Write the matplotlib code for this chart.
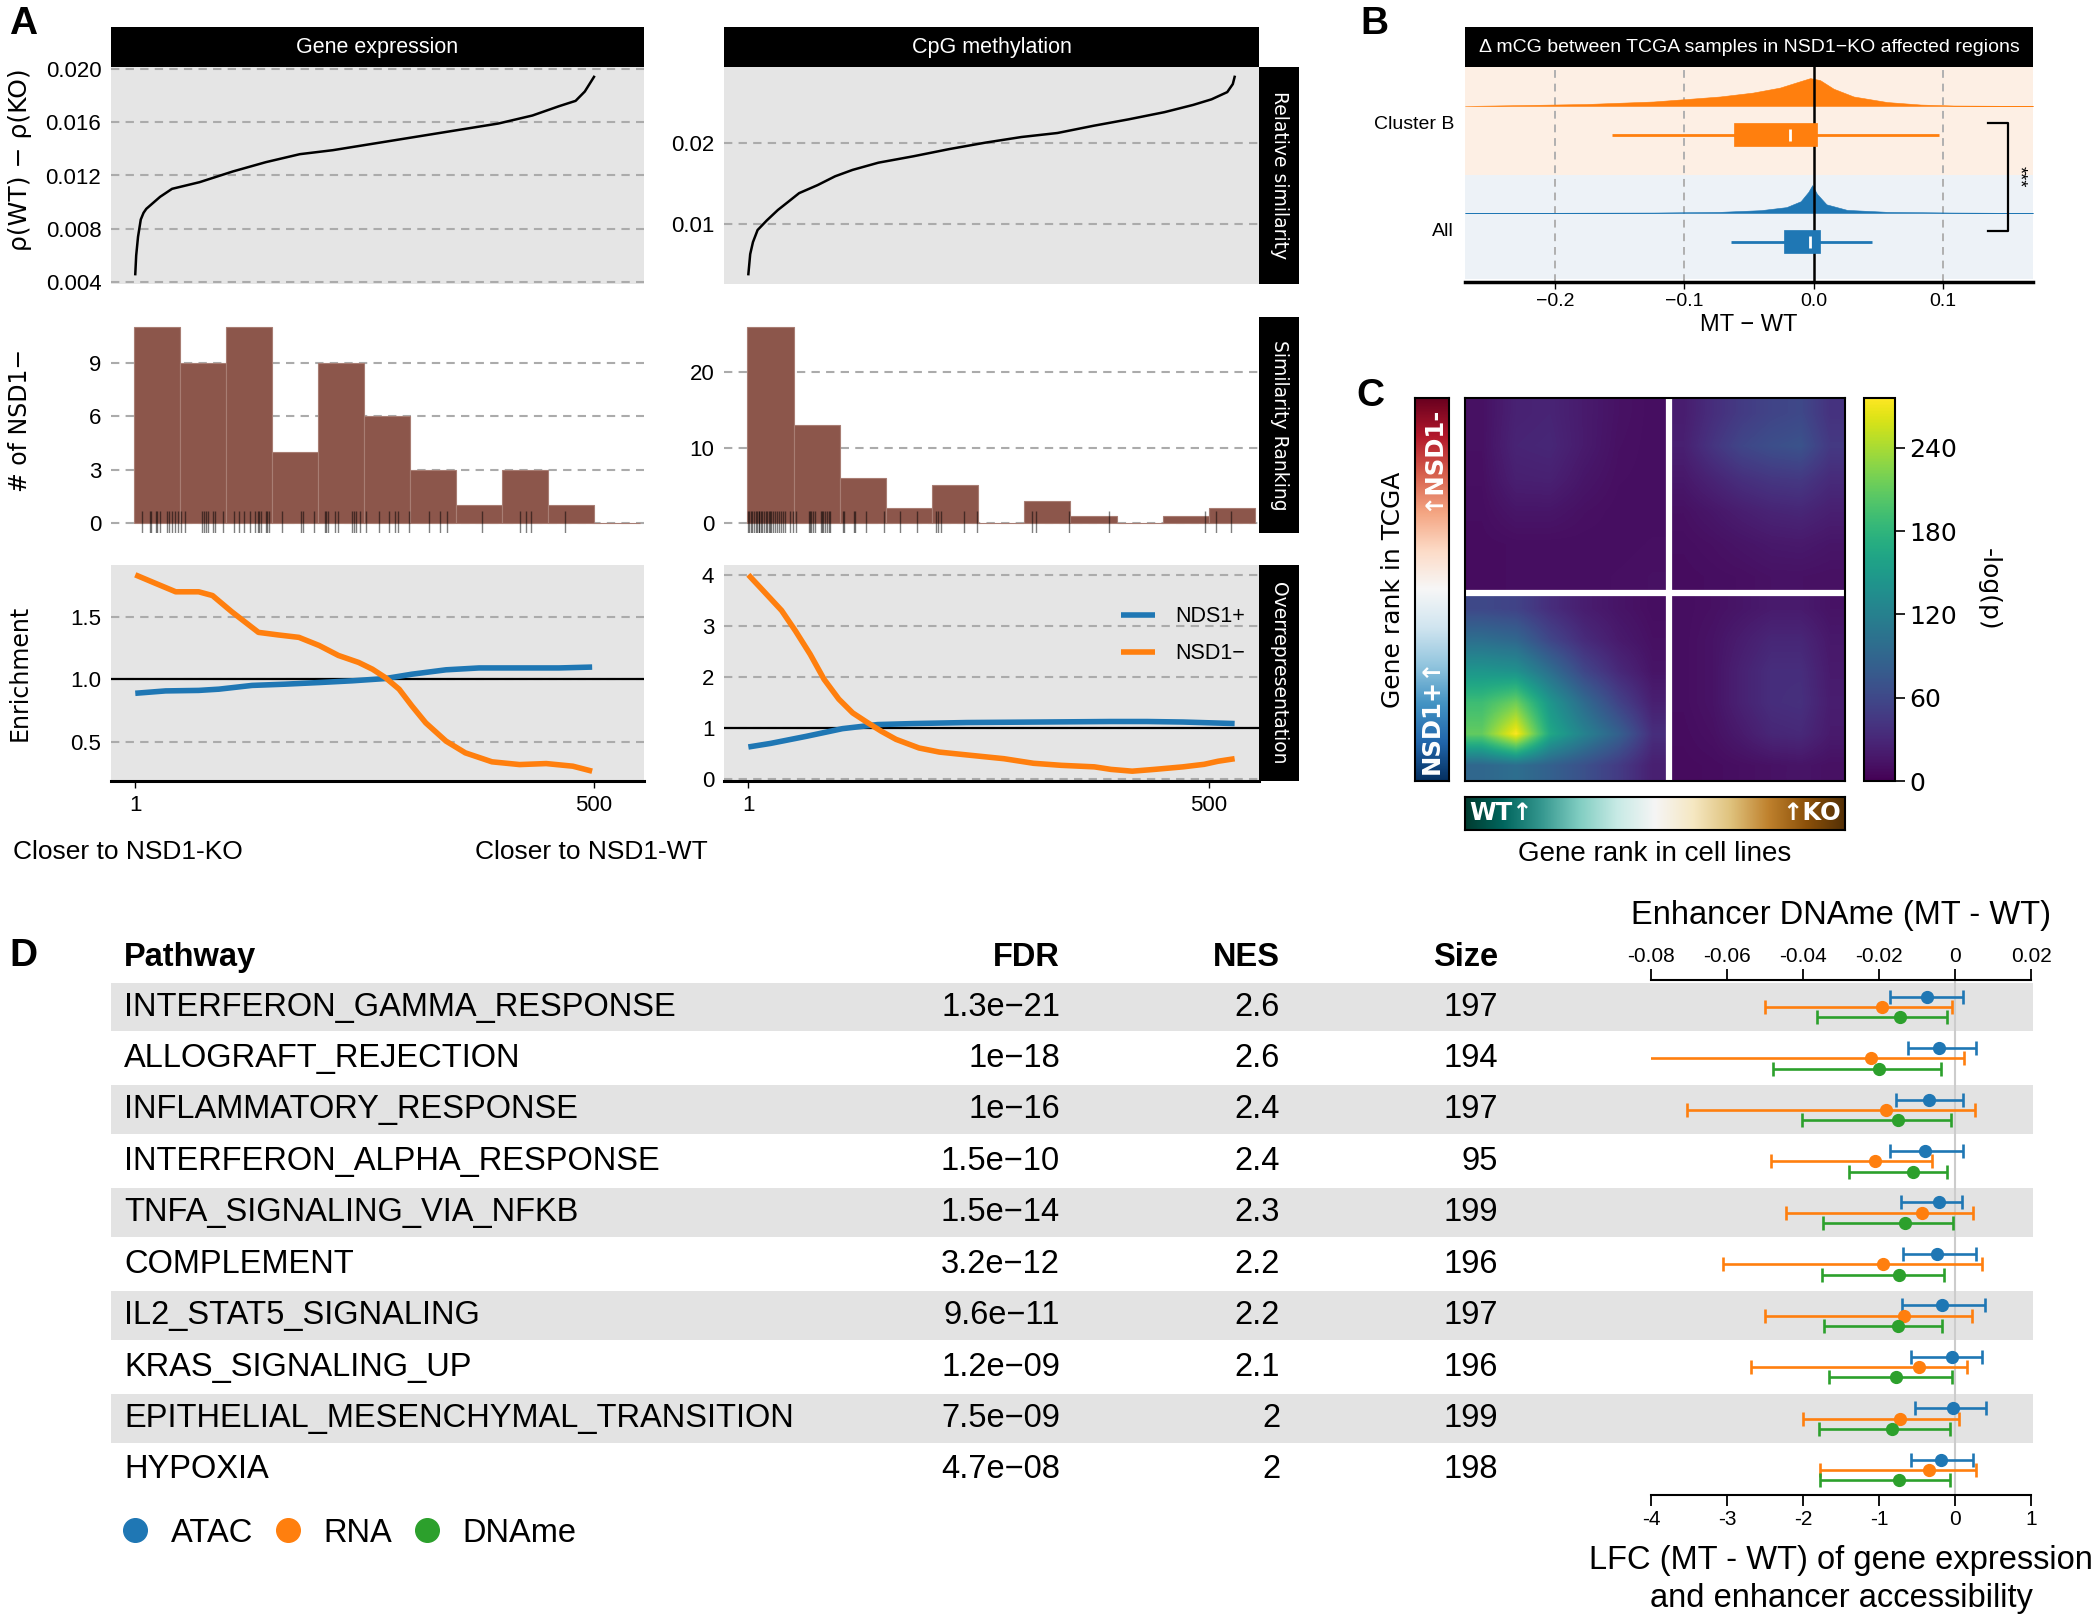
import numpy as np
import matplotlib
matplotlib.use('Agg')
import matplotlib.pyplot as plt
import matplotlib.transforms as mtransforms
from matplotlib.lines import Line2D
from matplotlib.patches import Rectangle

plt.rcParams['font.family'] = ['Liberation Sans', 'DejaVu Sans']
plt.rcParams['axes.unicode_minus'] = True

# ======================= DATA =======================
# Panel A, row 1: relative similarity (sorted)
ge_sim_rank = [1, 2, 4, 7, 10, 13, 28, 41, 71, 107, 143, 180, 216, 252, 288, 324, 360, 396, 433, 462, 480, 490, 500]
ge_sim = [0.0046, 0.0060, 0.0074, 0.0087, 0.0092, 0.0095, 0.0104, 0.0110, 0.0115, 0.0123, 0.0130, 0.0136,
          0.0139, 0.0143, 0.0147, 0.0151, 0.0155, 0.0159, 0.0165, 0.0172, 0.0176, 0.0183, 0.0194]
cpg_sim_rank = [1, 3, 6, 11, 21, 33, 44, 56, 76, 95, 114, 142, 180, 219, 258, 297, 336, 375, 413, 452,
                483, 503, 520, 526, 528]
cpg_sim = [0.0037, 0.0062, 0.0077, 0.0092, 0.0104, 0.0117, 0.0127, 0.0138, 0.0148, 0.0159, 0.0167, 0.0176,
           0.0184, 0.0193, 0.0201, 0.0208, 0.0213, 0.0222, 0.0230, 0.0239, 0.0248, 0.0255, 0.0264, 0.0274, 0.0283]

# Panel A, row 2: ranks of NSD1- samples
ge_neg_ranks = [8, 17, 18, 24, 25, 28, 35, 38, 41, 44, 48,
                51, 55, 74, 76, 78, 80, 86, 88, 96,
                108, 114, 119, 126, 131, 134, 136, 138, 143, 144, 147,
                161, 181, 183, 195,
                207, 209, 211, 218, 222, 237, 239, 241, 245,
                252, 266, 277, 284, 287, 299,
                320, 333, 340,
                378,
                419, 426, 432,
                469]
cpg_neg_ranks = [1, 2, 4, 5, 7, 9, 10, 12, 13, 15, 16, 18, 20, 21, 23, 24, 26, 28, 30, 32, 34, 36, 38, 41, 46, 49,
                 53, 67, 68, 69, 71, 73, 80, 81, 82, 84, 86, 88, 90,
                 104, 105, 116, 117, 129, 148,
                 165, 184,
                 204, 206, 210, 235, 249,
                 308, 313, 348,
                 392,
                 496,
                 508, 524]

# Panel A, row 3: enrichment
ge_enr_neg_rank = [1, 19, 45, 70, 85, 106, 135, 157, 179, 201, 222, 244, 259, 273, 288, 302, 317, 339, 360,
                   389, 419, 448, 477, 498]
ge_enr_neg = [1.836, 1.78, 1.70, 1.70, 1.67, 1.54, 1.375, 1.354, 1.335, 1.27, 1.19, 1.134, 1.08, 1.013, 0.92,
              0.785, 0.65, 0.504, 0.41, 0.338, 0.316, 0.324, 0.303, 0.263]
ge_enr_pos_rank = [1, 34, 70, 92, 128, 164, 201, 237, 273, 302, 339, 375, 419, 462, 498]
ge_enr_pos = [0.887, 0.906, 0.91, 0.92, 0.95, 0.96, 0.973, 0.987, 1.005, 1.04, 1.075, 1.09, 1.09, 1.09, 1.097]
cpg_enr_neg_rank = [1, 17, 37, 52, 68, 83, 99, 114, 130, 145, 161, 186, 208, 240, 278, 310, 340, 376, 394,
                    417, 441, 472, 495, 510, 528]
cpg_enr_neg = [4.0, 3.69, 3.30, 2.90, 2.44, 1.95, 1.56, 1.29, 1.10, 0.93, 0.77, 0.60, 0.52, 0.46, 0.39, 0.30,
               0.26, 0.23, 0.18, 0.145, 0.18, 0.23, 0.28, 0.34, 0.39]
cpg_enr_pos_rank = [1, 25, 64, 103, 141, 180, 238, 316, 394, 433, 472, 528]
cpg_enr_pos = [0.62, 0.69, 0.83, 0.98, 1.06, 1.08, 1.10, 1.11, 1.12, 1.12, 1.11, 1.08]

# Panel B: distributions of delta mCG
B_groups = ['All', 'Cluster B']
B_q1 = [-0.023, -0.062]
B_med = [-0.003, -0.018]
B_q3 = [0.005, 0.003]
B_wlo = [-0.064, -0.156]
B_whi = [0.045, 0.097]
B_dens_x_clusterB = [-0.27, -0.228, -0.176, -0.124, -0.098, -0.0725, -0.047, -0.026, -0.013, -0.0026,
                     0.005, 0.0155, 0.031, 0.057, 0.083, 0.109, 0.17]
B_dens_clusterB = [0.0, 0.03, 0.07, 0.16, 0.25, 0.34, 0.48, 0.66, 0.85, 1.0, 0.93, 0.62, 0.34, 0.14, 0.05,
                   0.015, 0.0]
B_dens_x_all = [-0.27, -0.124, -0.0725, -0.041, -0.021, -0.010, -0.004, -0.001, 0.0026, 0.010, 0.026,
                0.057, 0.109, 0.17]
B_dens_all = [0.0, 0.015, 0.04, 0.10, 0.21, 0.42, 0.76, 1.0, 0.69, 0.31, 0.11, 0.04, 0.015, 0.0]

# Panel C: -log(p) heatmap, four quadrants (rows top -> bottom)
hm_ul = [[12, 26, 28, 20, 13, 10],
         [12, 28, 30, 20, 12, 10],
         [11, 24, 25, 16, 11, 10],
         [10, 16, 16, 12, 10, 10],
         [9, 10, 10, 10, 10, 11],
         [9, 10, 10, 10, 11, 12]]
hm_ur = [[22, 36, 48, 56, 60, 40],
         [24, 42, 58, 66, 70, 46],
         [18, 28, 38, 44, 46, 34],
         [12, 17, 23, 28, 30, 24],
         [10, 12, 15, 18, 19, 16],
         [9, 10, 11, 13, 13, 12]]
hm_ll = [[60, 55, 36, 22, 15, 10],
         [100, 92, 58, 34, 20, 12],
         [145, 140, 100, 58, 32, 15],
         [190, 215, 145, 96, 55, 24],
         [210, 275, 165, 122, 85, 36],
         [92, 100, 85, 68, 48, 24]]
hm_lr = [[10, 12, 16, 20, 20, 14],
         [10, 14, 22, 30, 30, 18],
         [10, 14, 26, 36, 36, 20],
         [10, 14, 26, 36, 38, 22],
         [9, 12, 20, 30, 32, 20],
         [8, 9, 11, 13, 15, 12]]

# Panel D: pathway table + forest plot
pathways = ['INTERFERON_GAMMA_RESPONSE', 'ALLOGRAFT_REJECTION', 'INFLAMMATORY_RESPONSE',
            'INTERFERON_ALPHA_RESPONSE', 'TNFA_SIGNALING_VIA_NFKB', 'COMPLEMENT', 'IL2_STAT5_SIGNALING',
            'KRAS_SIGNALING_UP', 'EPITHELIAL_MESENCHYMAL_TRANSITION', 'HYPOXIA']
fdr = ['1.3e\u221221', '1e\u221218', '1e\u221216', '1.5e\u221210', '1.5e\u221214', '3.2e\u221212',
       '9.6e\u221211', '1.2e\u221209', '7.5e\u221209', '4.7e\u221208']
nes = ['2.6', '2.6', '2.4', '2.4', '2.3', '2.2', '2.2', '2.1', '2', '2']
size = [197, 194, 197, 95, 199, 196, 197, 196, 199, 198]
atac_est = [-0.37, -0.21, -0.34, -0.40, -0.21, -0.24, -0.17, -0.04, -0.03, -0.18]
atac_lo = [-0.85, -0.62, -0.78, -0.86, -0.71, -0.68, -0.70, -0.58, -0.53, -0.58]
atac_hi = [0.10, 0.28, 0.11, 0.10, 0.09, 0.28, 0.40, 0.36, 0.41, 0.24]
rna_est = [-0.96, -1.10, -0.91, -1.05, -0.44, -0.95, -0.67, -0.48, -0.72, -0.34]
rna_lo = [-2.50, -4.07, -3.52, -2.42, -2.23, -3.05, -2.50, -2.68, -2.00, -1.77]
rna_hi = [-0.04, 0.12, 0.26, -0.30, 0.24, 0.36, 0.23, 0.16, 0.05, 0.27]
dname_est = [-0.0146, -0.0200, -0.0150, -0.0110, -0.0132, -0.0148, -0.0150, -0.0156, -0.0166, -0.0148]
dname_lo = [-0.0362, -0.0480, -0.0402, -0.0278, -0.0348, -0.0350, -0.0344, -0.0332, -0.0358, -0.0354]
dname_hi = [-0.0020, -0.0038, -0.0010, -0.0020, -0.0004, -0.0030, -0.0034, -0.0008, -0.0012, -0.0012]

# ======================= FIGURE =======================
W, H = 2100, 1617
fig = plt.figure(figsize=(W / 100, H / 100), dpi=100)

BLUE, ORANGE, GREEN, BROWN = '#1f77b4', '#ff7f0e', '#2ca02c', '#8c564b'
PANEL = '#e5e5e5'
GRIDKW = dict(color='#ababab', linewidth=1.5, linestyle=(0, (4, 3)))


def axpx(x0, y0, x1, y1, **kw):
    return fig.add_axes([x0 / W, 1 - y1 / H, (x1 - x0) / W, (y1 - y0) / H], **kw)


def ftext(x, y, s, **kw):
    return fig.text(x / W, 1 - y / H, s, **kw)


def strip(x0, y0, x1, y1, text, rot=0, **kw):
    a = axpx(x0, y0, x1, y1)
    a.set_facecolor('black')
    a.set_xticks([])
    a.set_yticks([])
    for s in a.spines.values():
        s.set_visible(False)
    a.text(0.5, 0.5, text, color='white', ha='center', va='center', rotation=rot,
           transform=a.transAxes, **kw)
    return a


def base_style(ax, bg):
    ax.set_facecolor(bg)
    for s in ax.spines.values():
        s.set_visible(False)
    ax.tick_params(axis='y', length=0, pad=7, labelsize=16)
    ax.set_xticks([])
    ax.set_xlim(-25.4, 554.4)
    ax.yaxis.grid(True, **GRIDKW)
    ax.set_axisbelow(True)


def padlim(vals):
    lo, hi = min(vals), max(vals)
    p = 0.05 * (hi - lo)
    return lo - p, hi + p


A_cols = [(111, 644), (724, 1259)]
A_rows = [(67, 284), (317, 533), (565, 781)]

# ---- Row 1
row1 = [(ge_sim_rank, ge_sim, [0.004, 0.008, 0.012, 0.016, 0.020], '{:.3f}'),
        (cpg_sim_rank, cpg_sim, [0.01, 0.02], '{:.2f}')]
for (x0, x1), (rk, v, ticks, fmt) in zip(A_cols, row1):
    ax = axpx(x0, A_rows[0][0], x1, A_rows[0][1])
    base_style(ax, PANEL)
    ax.plot(rk, v, color='black', lw=1.8)
    ax.set_ylim(*padlim(v))
    ax.set_yticks(ticks)
    ax.set_yticklabels([fmt.format(t) for t in ticks])

# ---- Row 2
hist_bins = np.arange(0, 551, 50)
row2 = [(ge_neg_ranks, [0, 3, 6, 9]), (cpg_neg_ranks, [0, 10, 20])]
for (x0, x1), (rk, ticks) in zip(A_cols, row2):
    ax = axpx(x0, A_rows[1][0], x1, A_rows[1][1])
    base_style(ax, 'white')
    counts, _ = np.histogram(rk, bins=hist_bins)
    ax.hist(rk, bins=hist_bins, color=BROWN, edgecolor='#a87d73', linewidth=0.8, zorder=2)
    cmax = counts.max()
    ax.set_ylim(-0.05 * cmax, 1.05 * cmax)
    ax.set_yticks(ticks)
    ax.set_yticklabels([str(t) for t in ticks])
    tr = mtransforms.blended_transform_factory(ax.transData, ax.transAxes)
    ax.vlines(rk, 0, 0.1, transform=tr, colors='black', alpha=0.5, lw=1, zorder=3)

# ---- Row 3
row3 = [(ge_enr_pos_rank, ge_enr_pos, ge_enr_neg_rank, ge_enr_neg, [0.5, 1.0, 1.5], '{:.1f}'),
        (cpg_enr_pos_rank, cpg_enr_pos, cpg_enr_neg_rank, cpg_enr_neg, [0, 1, 2, 3, 4], '{:d}')]
for ci, ((x0, x1), (pr, pv, nr, nv, ticks, fmt)) in enumerate(zip(A_cols, row3)):
    ax = axpx(x0, A_rows[2][0], x1, A_rows[2][1])
    base_style(ax, PANEL)
    ax.axhline(1, color='black', lw=1.6, zorder=2)
    lp, = ax.plot(pr, pv, color=BLUE, lw=4.0, solid_capstyle='butt', solid_joinstyle='round', zorder=3)
    ln, = ax.plot(nr, nv, color=ORANGE, lw=4.0, solid_capstyle='butt', solid_joinstyle='round', zorder=3)
    ax.set_ylim(*padlim(list(pv) + list(nv)))
    ax.set_yticks(ticks)
    ax.set_yticklabels([fmt.format(t) for t in ticks])
    ax.spines['bottom'].set_visible(True)
    ax.spines['bottom'].set_linewidth(2.2)
    ax.set_xticks([1, 500])
    ax.set_xticklabels(['1', '500'])
    ax.tick_params(axis='x', length=5, width=1, pad=5, labelsize=16, direction='out')
    if ci == 1:
        ax.legend([lp, ln], ['NDS1+', 'NSD1\u2212'], loc='center left',
                  bbox_to_anchor=((1121 - x0) / (x1 - x0), 0.674), frameon=False, fontsize=15.5,
                  handlelength=1.6, handletextpad=0.9, labelspacing=0.75, borderpad=0, borderaxespad=0)

# strips
strip(111, 27, 644, 67, 'Gene expression', fontsize=15.5)
strip(724, 27, 1259, 67, 'CpG methylation', fontsize=15.5)
for (y0, y1), lab in zip(A_rows, ['Relative similarity', 'Similarity Ranking', 'Overrepresentation']):
    strip(1259, y0, 1299, y1, lab, rot=270, fontsize=13.5, family='DejaVu Sans')

ftext(20, 160, '\u03c1(WT) \u2212 \u03c1(KO)', rotation=90, ha='center', va='center', fontsize=18,
      family='DejaVu Sans')
ftext(20, 420, '# of NSD1\u2212', rotation=90, ha='center', va='center', fontsize=17, family='DejaVu Sans')
ftext(20, 673, 'Enrichment', rotation=90, ha='center', va='center', fontsize=17, family='DejaVu Sans')
ftext(13, 852, 'Closer to NSD1-KO', ha='left', va='center', fontsize=19)
ftext(475, 852, 'Closer to NSD1-WT', ha='left', va='center', fontsize=19)

# ======================= PANEL B =======================
axB = axpx(1465, 67, 2033, 282)
axB.set_xlim(-0.27, 0.17)
axB.set_ylim(0.505, 2.514)
axB.axhspan(1.505, 2.6, color='#fdefe4', lw=0, zorder=0)
axB.axhspan(0.533, 1.505, color='#edf2f7', lw=0, zorder=0)
for xv in [-0.2, -0.1, 0.1]:
    axB.axvline(xv, color='#b0b0b0', lw=1.4, ls=(0, (4, 3)), zorder=1)
B_cols = [BLUE, ORANGE]
B_dens = [(B_dens_x_all, B_dens_all), (B_dens_x_clusterB, B_dens_clusterB)]
for gi, (c, (dx, dh)) in enumerate(zip(B_cols, B_dens)):
    yc = gi + 1
    basey = yc + 0.15
    axB.fill_between(dx, basey, basey + 0.26 * np.asarray(dh), color=c, lw=0.4, edgecolor=c, alpha=1,
                     zorder=2)
    by = yc - 0.12
    axB.hlines(by, B_wlo[gi], B_whi[gi], color=c, lw=2, zorder=3)
    axB.add_patch(Rectangle((B_q1[gi], by - 0.107), B_q3[gi] - B_q1[gi], 0.214, fc=c, ec=c, lw=0.5,
                            zorder=4))
    axB.vlines(B_med[gi], by - 0.055, by + 0.055, color='white', lw=2, zorder=5)
axB.axvline(0, color='black', lw=1.8, zorder=2.5)
axB.plot([0.135, 0.151, 0.151, 0.135], [1.99, 1.99, 0.98, 0.98], color='black', lw=1.6, clip_on=False)
axB.text(0.159, 1.485, '***', rotation=270, ha='center', va='center', fontsize=13)
for s in ['top', 'left', 'right']:
    axB.spines[s].set_visible(False)
axB.spines['bottom'].set_linewidth(2.5)
axB.set_yticks([1, 2])
axB.set_yticklabels(B_groups)
axB.tick_params(axis='y', length=0, pad=8, labelsize=14)
axB.set_xticks([-0.2, -0.1, 0.0, 0.1])
axB.set_xticklabels(['\u22120.2', '\u22120.1', '0.0', '0.1'])
axB.tick_params(axis='x', length=5, width=1, pad=3, labelsize=14)
axB.set_xlabel('MT \u2212 WT', fontsize=17, labelpad=3)
strip(1465, 27, 2033, 67, '\u0394 mCG between TCGA samples in NSD1\u2212KO affected regions', fontsize=14)

# ======================= PANEL C =======================
axC = axpx(1465, 398, 1845, 781)
XS, YS = 0.537, 0.49
hkw = dict(cmap='viridis', vmin=0, vmax=276, interpolation='bilinear', aspect='auto', origin='upper')
im = axC.imshow(hm_ul, extent=(0, XS, YS, 1), **hkw)
axC.imshow(hm_ur, extent=(XS, 1, YS, 1), **hkw)
axC.imshow(hm_ll, extent=(0, XS, 0, YS), **hkw)
axC.imshow(hm_lr, extent=(XS, 1, 0, YS), **hkw)
axC.set_xlim(0, 1)
axC.set_ylim(0, 1)
axC.axvline(XS, color='white', lw=4.5)
axC.axhline(YS, color='white', lw=4.5)
axC.set_xticks([])
axC.set_yticks([])
for s in axC.spines.values():
    s.set_linewidth(1.5)

cax = axpx(1864, 398, 1895, 781)
cb = fig.colorbar(im, cax=cax, ticks=[0, 60, 120, 180, 240])
cb.ax.tick_params(labelsize=18, length=7, width=1.2)
for t in cb.ax.get_yticklabels():
    t.set_family('DejaVu Sans')
cb.outline.set_linewidth(1.5)
cb.set_label('-log(p)', rotation=270, labelpad=14, va='bottom', fontsize=18, family='DejaVu Sans')

grad = np.linspace(0, 1, 256)
axL = axpx(1415, 398, 1449, 781)
axL.imshow(grad[:, None], cmap='RdBu_r', origin='lower', aspect='auto', extent=(0, 1, 0, 1))
axL.set_xticks([])
axL.set_yticks([])
for s in axL.spines.values():
    s.set_linewidth(1.5)
axL.text(0.5, 0.17, 'NSD1+\u2191', rotation=90, ha='center', va='center', color='white', fontsize=17.5,
         fontweight='bold', family='DejaVu Sans', transform=axL.transAxes)
axL.text(0.5, 0.843, '\u2191NSD1-', rotation=90, ha='center', va='center', color='white', fontsize=17.5,
         fontweight='bold', family='DejaVu Sans', transform=axL.transAxes)

axBt = axpx(1465, 797, 1845, 830)
axBt.imshow(grad[None, :], cmap='BrBG_r', origin='lower', aspect='auto', extent=(0, 1, 0, 1))
axBt.set_xticks([])
axBt.set_yticks([])
for s in axBt.spines.values():
    s.set_linewidth(1.5)
axBt.text(0.01, 0.5, 'WT\u2191', ha='left', va='center', color='white', fontsize=17.5, fontweight='bold',
          family='DejaVu Sans', transform=axBt.transAxes)
axBt.text(0.99, 0.5, '\u2191KO', ha='right', va='center', color='white', fontsize=17.5, fontweight='bold',
          family='DejaVu Sans', transform=axBt.transAxes)

ftext(1393, 590, 'Gene rank in TCGA', rotation=90, ha='center', va='center', fontsize=18,
      family='DejaVu Sans')
ftext(1655, 854, 'Gene rank in cell lines', ha='center', va='center', fontsize=20)

# ======================= PANEL D =======================
ROWH = 51.4
tab = axpx(111, 930, 2033, 1495)
tab.set_xlim(111, 2033)
tab.set_ylim(9 + 25 / ROWH, -0.525 - 50 / ROWH)
tab.axis('off')
n = len(pathways)
for i in range(0, n, 2):
    tab.add_patch(Rectangle((111, i - 0.475), 1922, 0.95, fc='#e3e3e3', ec='none', zorder=0))
TF = 23.5
for i in range(n):
    tab.text(124, i, pathways[i], ha='left', va='center', fontsize=TF)
    tab.text(1060, i, fdr[i], ha='right', va='center', fontsize=TF)
    tab.text(1280, i, nes[i], ha='right', va='center', fontsize=TF)
    tab.text(1498, i, str(size[i]), ha='right', va='center', fontsize=TF)
for xh, lab, ha in [(124, 'Pathway', 'left'), (1060, 'FDR', 'right'), (1280, 'NES', 'right'),
                    (1498, 'Size', 'right')]:
    tab.text(xh, -0.97, lab, ha=ha, va='center', fontsize=TF, fontweight='bold')

fax = axpx(1651, 980, 2031, 1495)
fax.set_facecolor('none')
fax.set_xlim(-4, 1)
fax.set_ylim(9 + 25 / ROWH, -0.525)
fax.axvline(0, color='#cccccc', lw=1.5, zorder=0)
rows_y = np.arange(n)
ebkw = dict(fmt='o', ms=8.5, capsize=5, elinewidth=1.9, capthick=1.9, zorder=3)
a_est = np.asarray(atac_est)
r_est = np.asarray(rna_est)
fax.errorbar(a_est, rows_y - 0.2, xerr=[a_est - np.asarray(atac_lo), np.asarray(atac_hi) - a_est],
             color=BLUE, **ebkw)
fax.errorbar(r_est, rows_y, xerr=[r_est - np.asarray(rna_lo), np.asarray(rna_hi) - r_est],
             color=ORANGE, **ebkw)
for s in ['left', 'right', 'top']:
    fax.spines[s].set_visible(False)
fax.spines['bottom'].set_linewidth(1.5)
fax.set_yticks([])
fax.set_xticks([-4, -3, -2, -1, 0, 1])
fax.set_xticklabels(['-4', '-3', '-2', '-1', '0', '1'])
fax.tick_params(axis='x', length=8, width=1.3, pad=3, labelsize=15, direction='out')
fax.set_xlabel('LFC (MT - WT) of gene expression\nand enhancer accessibility', fontsize=TF, labelpad=11,
               linespacing=1.3)

dax = fax.twiny()
dax.set_xlim(-0.08, 0.02)
d_est = np.asarray(dname_est)
dax.errorbar(d_est, rows_y + 0.2, xerr=[d_est - np.asarray(dname_lo), np.asarray(dname_hi) - d_est],
             color=GREEN, **ebkw)
for s in ['left', 'right', 'bottom']:
    dax.spines[s].set_visible(False)
dax.spines['top'].set_linewidth(1.5)
dax.set_xticks([-0.08, -0.06, -0.04, -0.02, 0, 0.02])
dax.set_xticklabels(['-0.08', '-0.06', '-0.04', '-0.02', '0', '0.02'])
dax.tick_params(axis='x', length=8, width=1.3, pad=2, labelsize=15, direction='out')
dax.set_xlabel('Enhancer DNAme (MT - WT)', fontsize=TF, labelpad=17)

handles = [Line2D([], [], marker='o', ls='', color=c, ms=17) for c in [BLUE, ORANGE, GREEN]]
fig.legend(handles, ['ATAC', 'RNA', 'DNAme'], ncol=3, loc='center left',
           bbox_to_anchor=(119 / W, 1 - 1533 / H), frameon=False, fontsize=TF, handlelength=1.0,
           handletextpad=0.6, columnspacing=0.55, borderpad=0, borderaxespad=0)

# panel letters
for x, y, L in [(9, 6, 'A'), (1360, 6, 'B'), (1356, 378, 'C'), (9, 938, 'D')]:
    ftext(x, y, L, ha='left', va='top', fontsize=28, fontweight='bold')

fig.savefig('out.png', dpi=100)
